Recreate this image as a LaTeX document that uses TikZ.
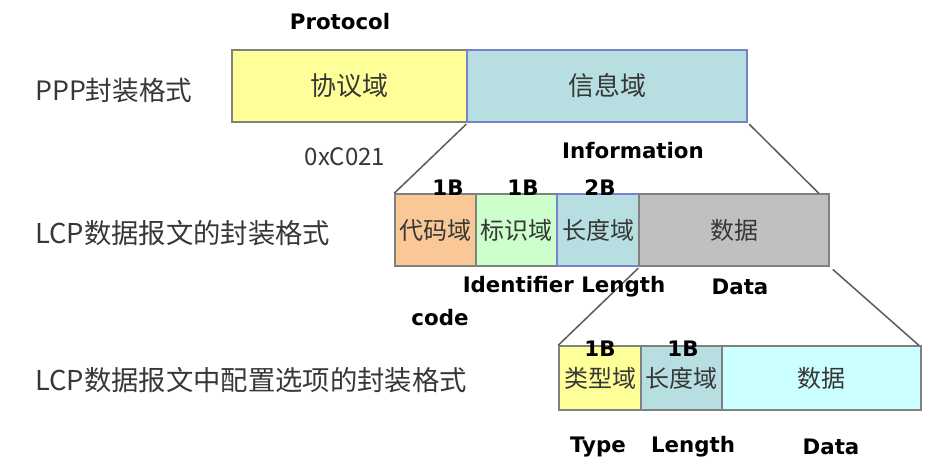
\documentclass[tikz,border=0pt]{standalone}
\usepackage{fontspec}
\setmainfont{DejaVu Sans}
\newfontfamily\cjk{Noto Sans CJK SC}
\def\pxu{0.75pt}
\definecolor{fyellow}{RGB}{255,255,153}
\definecolor{finfo}{RGB}{183,222,225}
\definecolor{forange}{RGB}{250,200,150}
\definecolor{fgreen}{RGB}{204,255,204}
\definecolor{fgray}{RGB}{192,192,192}
\definecolor{fcyan}{RGB}{204,255,255}
\definecolor{bgray}{RGB}{128,128,128}
\definecolor{bblue}{RGB}{120,130,200}
\definecolor{tgray}{RGB}{55,55,55}
\definecolor{lgray}{RGB}{90,90,90}
\begin{document}
\begin{tikzpicture}[x=0.75pt,y=-0.75pt,
  fld/.style={draw=bgray,line width=1.5pt*0.75,inner sep=0pt,text=tgray,font=\cjk\fontsize{18pt}{20pt}\selectfont},
  fldbig/.style={fld,font=\cjk\fontsize{19.5pt}{22pt}\selectfont},
  en/.style={font=\bfseries\fontsize{16pt}{18pt}\selectfont,inner sep=0pt,text=black},
  side/.style={anchor=west,inner sep=0pt,text=tgray,font=\cjk\fontsize{20.5pt}{24pt}\selectfont},
  conn/.style={draw=lgray,line width=1.5pt*0.75}]
\useasboundingbox (0,0) rectangle (952,475);
% row 1
\node[fldbig,fill=fyellow,minimum width=235*\pxu,minimum height=72*\pxu] (proto) at (349.5,86) {协议域};
\node[fldbig,fill=finfo,draw=bblue,minimum width=280*\pxu,minimum height=72*\pxu] (info) at (607,86) {信息域};
% row 2
\node[fld,fill=forange,minimum width=81*\pxu,minimum height=72*\pxu] (code) at (435.5,230) {代码域};
\node[fld,fill=fgreen,minimum width=81*\pxu,minimum height=72*\pxu] (ident) at (516.5,230) {标识域};
\node[fld,fill=finfo,draw=bblue,minimum width=82*\pxu,minimum height=72*\pxu] (len) at (598,230) {长度域};
\node[fld,fill=fgray,minimum width=190*\pxu,minimum height=72*\pxu] (data) at (734,230) {数据};
% row 3
\node[fld,fill=fyellow,minimum width=82*\pxu,minimum height=64*\pxu] (type) at (600,378) {类型域};
\node[fld,fill=finfo,minimum width=81*\pxu,minimum height=64*\pxu] (lenb) at (681.5,378) {长度域};
\node[fld,fill=fcyan,minimum width=199*\pxu,minimum height=64*\pxu] (datab) at (821.5,378) {数据};
% connectors
\draw[conn,shorten <=2*\pxu] (proto.south east) -- (code.north west);
\draw[conn,shorten <=2*\pxu] (info.south east) -- ([xshift=-11*\pxu]data.north east);
\draw[conn,shorten <=2*\pxu] (len.south east) -- (type.north west);
\draw[conn,shorten <=4*\pxu] (data.south east) -- ([xshift=-3*\pxu]datab.north east);
% side labels
\node[side,font=\cjk\fontsize{20pt}{24pt}\selectfont] (l1) at (35,90) {PPP封装格式};
\node[side] (l2) at (35,233) {LCP数据报文的封装格式};
\node[side] (l3) at (35,380) {LCP数据报文中配置选项的封装格式};
\node[inner sep=0pt,text=tgray,font=\cjk\fontsize{18pt}{20pt}\selectfont] (hex) at (345,157) {0xC021};
% english labels
\node[en] (tProto) at (340,22) {Protocol};
\node[en] (tInfo) at (633,151) {Information};
\node[en] (b1) at (448,188) {1B};
\node[en] (b2) at (523,188) {1B};
\node[en] (b3) at (600,188) {2B};
\node[en] (tIL) at (564,287) {Identifier Length};
\node[en] (tData) at (740,287) {Data};
\node[en] (tCode) at (440,318) {code};
\node[en] (c1) at (600,349) {1B};
\node[en] (c2) at (683,349) {1B};
\node[en] (tType) at (598,447) {Type};
\node[en] (tLen) at (693,447) {Length};
\node[en] (tData2) at (831,447) {Data};
\end{tikzpicture}
\end{document}
